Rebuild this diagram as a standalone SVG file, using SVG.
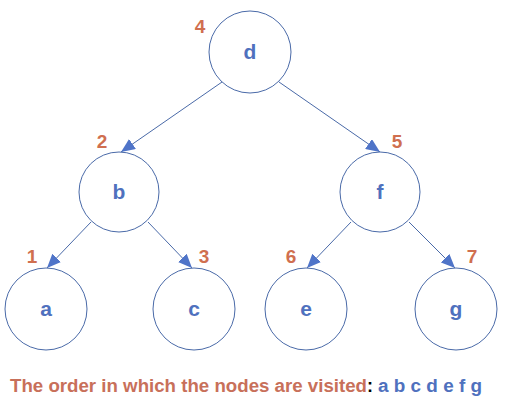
<svg xmlns="http://www.w3.org/2000/svg" width="506" height="410" viewBox="0 0 506 410">
<defs>
<marker id="arr" markerWidth="14" markerHeight="12" refX="14" refY="6" orient="auto" markerUnits="userSpaceOnUse" viewBox="0 0 14 12">
<path d="M0,0 L14,6 L0,12 z" fill="#4f74c8"/>
</marker>
<style>
.n circle{fill:#fff;stroke:#4a6aa8;stroke-width:1}
.lbl{font-family:"Liberation Sans",Arial,sans-serif;font-weight:bold;font-size:21px;fill:#4f71be;text-anchor:middle}
.num{font-family:"Liberation Sans",Arial,sans-serif;font-weight:bold;font-size:19px;fill:#d06f4f;text-anchor:middle}
.e{stroke:#4a6aa8;stroke-width:1;fill:none}
.cap{font-family:"Liberation Sans",Arial,sans-serif;font-weight:bold;font-size:18px}
</style>
</defs>
<rect width="506" height="410" fill="#fff"/>
<g id="edges">
<line class="e" x1="222" y1="82" x2="121" y2="152" marker-end="url(#arr)"/>
<line class="e" x1="279" y1="82" x2="380" y2="152" marker-end="url(#arr)"/>
<line class="e" x1="91" y1="222" x2="47" y2="268" marker-end="url(#arr)"/>
<line class="e" x1="148" y1="222" x2="192" y2="268" marker-end="url(#arr)"/>
<line class="e" x1="351" y1="222" x2="307" y2="268" marker-end="url(#arr)"/>
<line class="e" x1="409" y1="222" x2="455" y2="268" marker-end="url(#arr)"/>
</g>
<g id="node-d" class="n"><circle cx="250" cy="52" r="41"/><text class="lbl" x="250" y="59">d</text><text class="num" x="200" y="33">4</text></g>
<g id="node-b" class="n"><circle cx="119" cy="192" r="40"/><text class="lbl" x="119" y="199">b</text><text class="num" x="102" y="148">2</text></g>
<g id="node-f" class="n"><circle cx="380" cy="192" r="40"/><text class="lbl" x="380" y="199">f</text><text class="num" x="397" y="148">5</text></g>
<g id="node-a" class="n"><circle cx="46" cy="309" r="41"/><text class="lbl" x="46" y="316">a</text><text class="num" x="32" y="263">1</text></g>
<g id="node-c" class="n"><circle cx="194" cy="309" r="41"/><text class="lbl" x="194" y="316">c</text><text class="num" x="204" y="263">3</text></g>
<g id="node-e" class="n"><circle cx="306" cy="309" r="41"/><text class="lbl" x="306" y="316">e</text><text class="num" x="291" y="263">6</text></g>
<g id="node-g" class="n"><circle cx="456" cy="309" r="41"/><text class="lbl" x="456" y="316">g</text><text class="num" x="472" y="263">7</text></g>
<text class="cap" x="10" y="392" fill="#c8705a" textLength="357" lengthAdjust="spacingAndGlyphs">The order in which the nodes are visited</text>
<text class="cap" x="367" y="392" fill="#000">:</text>
<text class="cap" x="378" y="392" fill="#4f71be" textLength="104" lengthAdjust="spacingAndGlyphs">a b c d e f g</text>
</svg>
